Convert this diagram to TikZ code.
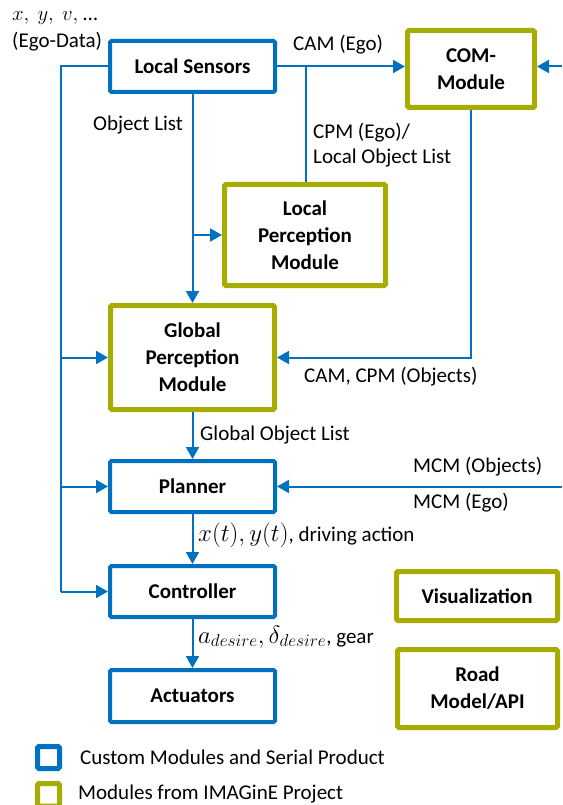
\documentclass[tikz,border=0pt]{standalone}
\usepackage{fontspec}
\setmainfont{Carlito}
\usetikzlibrary{arrows.meta}
\definecolor{cblue}{RGB}{0,112,192}
\definecolor{cgreen}{RGB}{166,172,0}
\begin{document}
\begin{tikzpicture}[x=1pt,y=-1pt,
  box/.style={draw, rounded corners=1.5pt, inner sep=0pt, align=center,
    font=\fontsize{21}{27}\selectfont\bfseries},
  bluebox/.style={box, draw=cblue, line width=4pt},
  greenbox/.style={box, draw=cgreen, line width=5pt},
  conn/.style={draw=cblue, line width=2pt},
  arr/.style={conn, -{Triangle[length=12pt,width=13pt]}},
  lbl/.style={inner sep=0pt, font=\fontsize{21}{25}\selectfont, align=left}]
\useasboundingbox (0,0) rectangle (562,805);
% nodes
\node[bluebox, minimum width=165pt, minimum height=51pt] (ls) at (192.5,66.5) {Local Sensors};
\node[greenbox, minimum width=127pt, minimum height=77pt] (com) at (471,69) {COM-\\Module};
\node[greenbox, minimum width=161pt, minimum height=101pt] (lpm) at (305,235) {Local\\Perception\\Module};
\node[greenbox, minimum width=164pt, minimum height=104pt] (gpm) at (192.5,357.5) {Global\\Perception\\Module};
\node[bluebox, minimum width=165pt, minimum height=51pt] (pl) at (192.5,486.5) {Planner};
\node[bluebox, minimum width=165pt, minimum height=51pt] (ct) at (192.5,591.5) {Controller};
\node[bluebox, minimum width=165pt, minimum height=52pt] (ac) at (192.5,696) {Actuators};
\node[greenbox, minimum width=161pt, minimum height=49pt] (vis) at (477,596) {Visualization};
\node[greenbox, minimum width=160pt, minimum height=78pt] (road) at (477.5,688.5) {Road\\Model/API};
% coordinates
\coordinate (lx) at (61,66.5);
\coordinate (cpm) at (306,66.5);
\coordinate (comin) at (562,66.5);
\coordinate (mcmin) at (562,486.5);
% connectors
\draw[conn] (ls.west) -- (lx) -- (lx |- ct.west);
\draw[arr] (lx |- gpm.west) -- (gpm.west);
\draw[arr] (lx |- pl.west) -- (pl.west);
\draw[arr] (lx |- ct.west) -- (ct.west);
\draw[arr] (ls.east) -- (ls.east -| com.west);
\draw[arr] (comin) -- (comin -| com.east);
\draw[conn] (cpm) -- (cpm |- lpm.north);
\draw[arr] (ls.south) -- (gpm.north);
\draw[arr] (ls.south |- lpm.west) -- (lpm.west);
\draw[arr] (com.south) |- (gpm.east);
\draw[arr] (gpm.south) -- (pl.north);
\draw[arr] (mcmin) -- (pl.east);
\draw[arr] (pl.south) -- (ct.north);
\draw[arr] (ct.south) -- (ac.north);
% labels
\node[lbl, anchor=west] (l1) at (12,18) {$x,\ y,\ v,$ \ldots};
\node[lbl, anchor=west] (l2) at (12,42) {(Ego-Data)};
\node[lbl, anchor=west] (l3) at (293,45) {CAM (Ego)};
\node[lbl, anchor=west] (l4) at (93,125) {Object List};
\node[lbl, anchor=west] (l5) at (313,133) {CPM (Ego)/};
\node[lbl, anchor=west] (l6) at (313,158) {Local Object List};
\node[lbl, anchor=west] (l7) at (304,377) {CAM, CPM (Objects)};
\node[lbl, anchor=west] (l8) at (200,435) {Global Object List};
\node[lbl, anchor=west] (l9) at (413,467) {MCM (Objects)};
\node[lbl, anchor=west] (l10) at (413,503) {MCM (Ego)};
\node[lbl, anchor=west] (l11) at (198,535) {{\fontsize{23}{25}\selectfont$x(t), y(t)$}, driving action};
\node[lbl, anchor=west] (l12) at (198,637) {{\fontsize{24}{25}\selectfont$a_{desire}, \delta_{desire}$}, gear};
% legend
\draw[draw=cblue, line width=5pt, rounded corners=1.5pt] (37.5,746.5) rectangle (59.5,768.5);
\draw[draw=cgreen, line width=5pt, rounded corners=1.5pt] (37.5,783.5) rectangle (59.5,806);
\node[lbl, anchor=west] (lg1) at (80,757) {Custom Modules and Serial Product};
\node[lbl, anchor=west] (lg2) at (78,794) {Modules from IMAGinE Project};
\end{tikzpicture}
\end{document}
